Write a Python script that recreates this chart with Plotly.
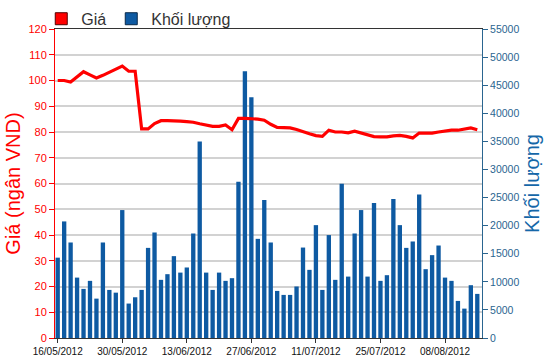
import plotly.graph_objects as go
import pandas as pd

# Trading days (categories)
dates = [d.strftime("%d/%m/%Y") for d in pd.bdate_range("2012-05-16", "2012-08-15")]

# Price (thousand VND)
price = [100, 100, 99.4, 101.5, 103.4, 102.2, 101, 102, 103.2, 104.4,
         105.6, 103.6, 103.6, 81.2, 81.2, 83.3, 84.4, 84.4, 84.4, 84.2,
         84, 83.8, 83.2, 82.7, 82.2, 82.2, 82.7, 80.9, 85.3, 85.3,
         85.3, 85, 84.6, 83, 81.8, 81.6, 81.6, 81, 80, 79.3,
         78.6, 78.3, 80.7, 80, 80, 79.7, 80.3, 79.5, 79, 78.2,
         78.1, 78.1, 78.5, 78.7, 78.3, 77.7, 79.6, 79.6, 79.6, 80,
         80.5, 80.7, 80.7, 81.2, 81.6, 80.9]

# Volume
volume = [14300, 20750, 17000, 10750, 8740, 10170, 7010, 17000, 8560, 8070,
          22770, 6130, 7250, 8560, 16040, 18780, 10350, 11360, 14570, 11640,
          12550, 18600, 34960, 11640, 8560, 11640, 10170, 10650, 27820, 47480,
          42850, 17650, 24560, 17000, 8380, 7670, 7670, 9170, 16100, 12130,
          20090, 8560, 18320, 10350, 27460, 10930, 18600, 22770, 10930, 24020,
          10170, 11180, 24740, 20090, 16040, 17180, 25560, 12250, 14750, 16460,
          10750, 10170, 6600, 5230, 9400, 7850]

tick_labels = dates[::10]

RED = "#ff0000"
BLUE = "#0e5aa2"
AXBLUE = "#2a6590"
FONT = "Liberation Sans, Arial, sans-serif"

fig = go.Figure()
fig.add_trace(go.Bar(x=dates, y=volume, yaxis="y", marker=dict(color=BLUE, line=dict(width=0)),
                     showlegend=False, name="Khối lượng"))
fig.add_trace(go.Scatter(x=dates, y=price, yaxis="y2", mode="lines",
                         line=dict(color=RED, width=3.2), showlegend=False, name="Giá"))
# legend entries
fig.add_trace(go.Scatter(x=[None], y=[None], yaxis="y2", mode="markers", name="Giá",
                         marker=dict(symbol="square", size=12, color=RED, line=dict(color="#550000", width=1)),
                         legendrank=1))
fig.add_trace(go.Scatter(x=[None], y=[None], yaxis="y", mode="markers", name="Khối lượng",
                         marker=dict(symbol="square", size=12, color=BLUE, line=dict(color="#0a2a4a", width=1)),
                         legendrank=2))

fig.update_layout(
    width=550, height=364,
    margin=dict(l=55, r=68, t=29, b=26, autoexpand=False),
    paper_bgcolor="white", plot_bgcolor="white",
    font=dict(family=FONT, size=11, color="#222"),
    bargap=0.33,
    showlegend=True,
    legend=dict(orientation="h", xref="container", yref="container", x=0.075, y=0.995,
                xanchor="left", yanchor="top", font=dict(size=16, color="#333"),
                bgcolor="rgba(0,0,0,0)", itemclick=False),
    xaxis=dict(type="category", range=[-0.42, 65.73], tickmode="array",
               tickvals=tick_labels, ticktext=tick_labels, ticks="outside", ticklen=4,
               tickcolor="#333", showline=True, linecolor="#333", linewidth=1, mirror=True,
               showgrid=False, tickangle=0, tickfont=dict(size=10, color="#111")),
    yaxis=dict(side="right", range=[0, 55000], dtick=5000, tickformat="d", showgrid=False, zeroline=False,
               showline=True, linecolor=AXBLUE, linewidth=1, ticks="outside", ticklen=5,
               tickcolor=AXBLUE, tickfont=dict(size=10.5, color=AXBLUE),
               title=dict(text="Khối lượng", font=dict(size=20, color="#1567a8"), standoff=6)),
    yaxis2=dict(side="left", overlaying="y", range=[0, 120], dtick=10, showgrid=True,
                gridcolor="#d2d2d2", gridwidth=2, zeroline=False,
                showline=True, linecolor=RED, linewidth=1, ticks="outside", ticklen=5,
                tickcolor=RED, tickfont=dict(size=11, color=RED),
                title=dict(text="Giá (ngân VND)", font=dict(size=20, color=RED), standoff=2)),
)

fig.write_html("out.html")
